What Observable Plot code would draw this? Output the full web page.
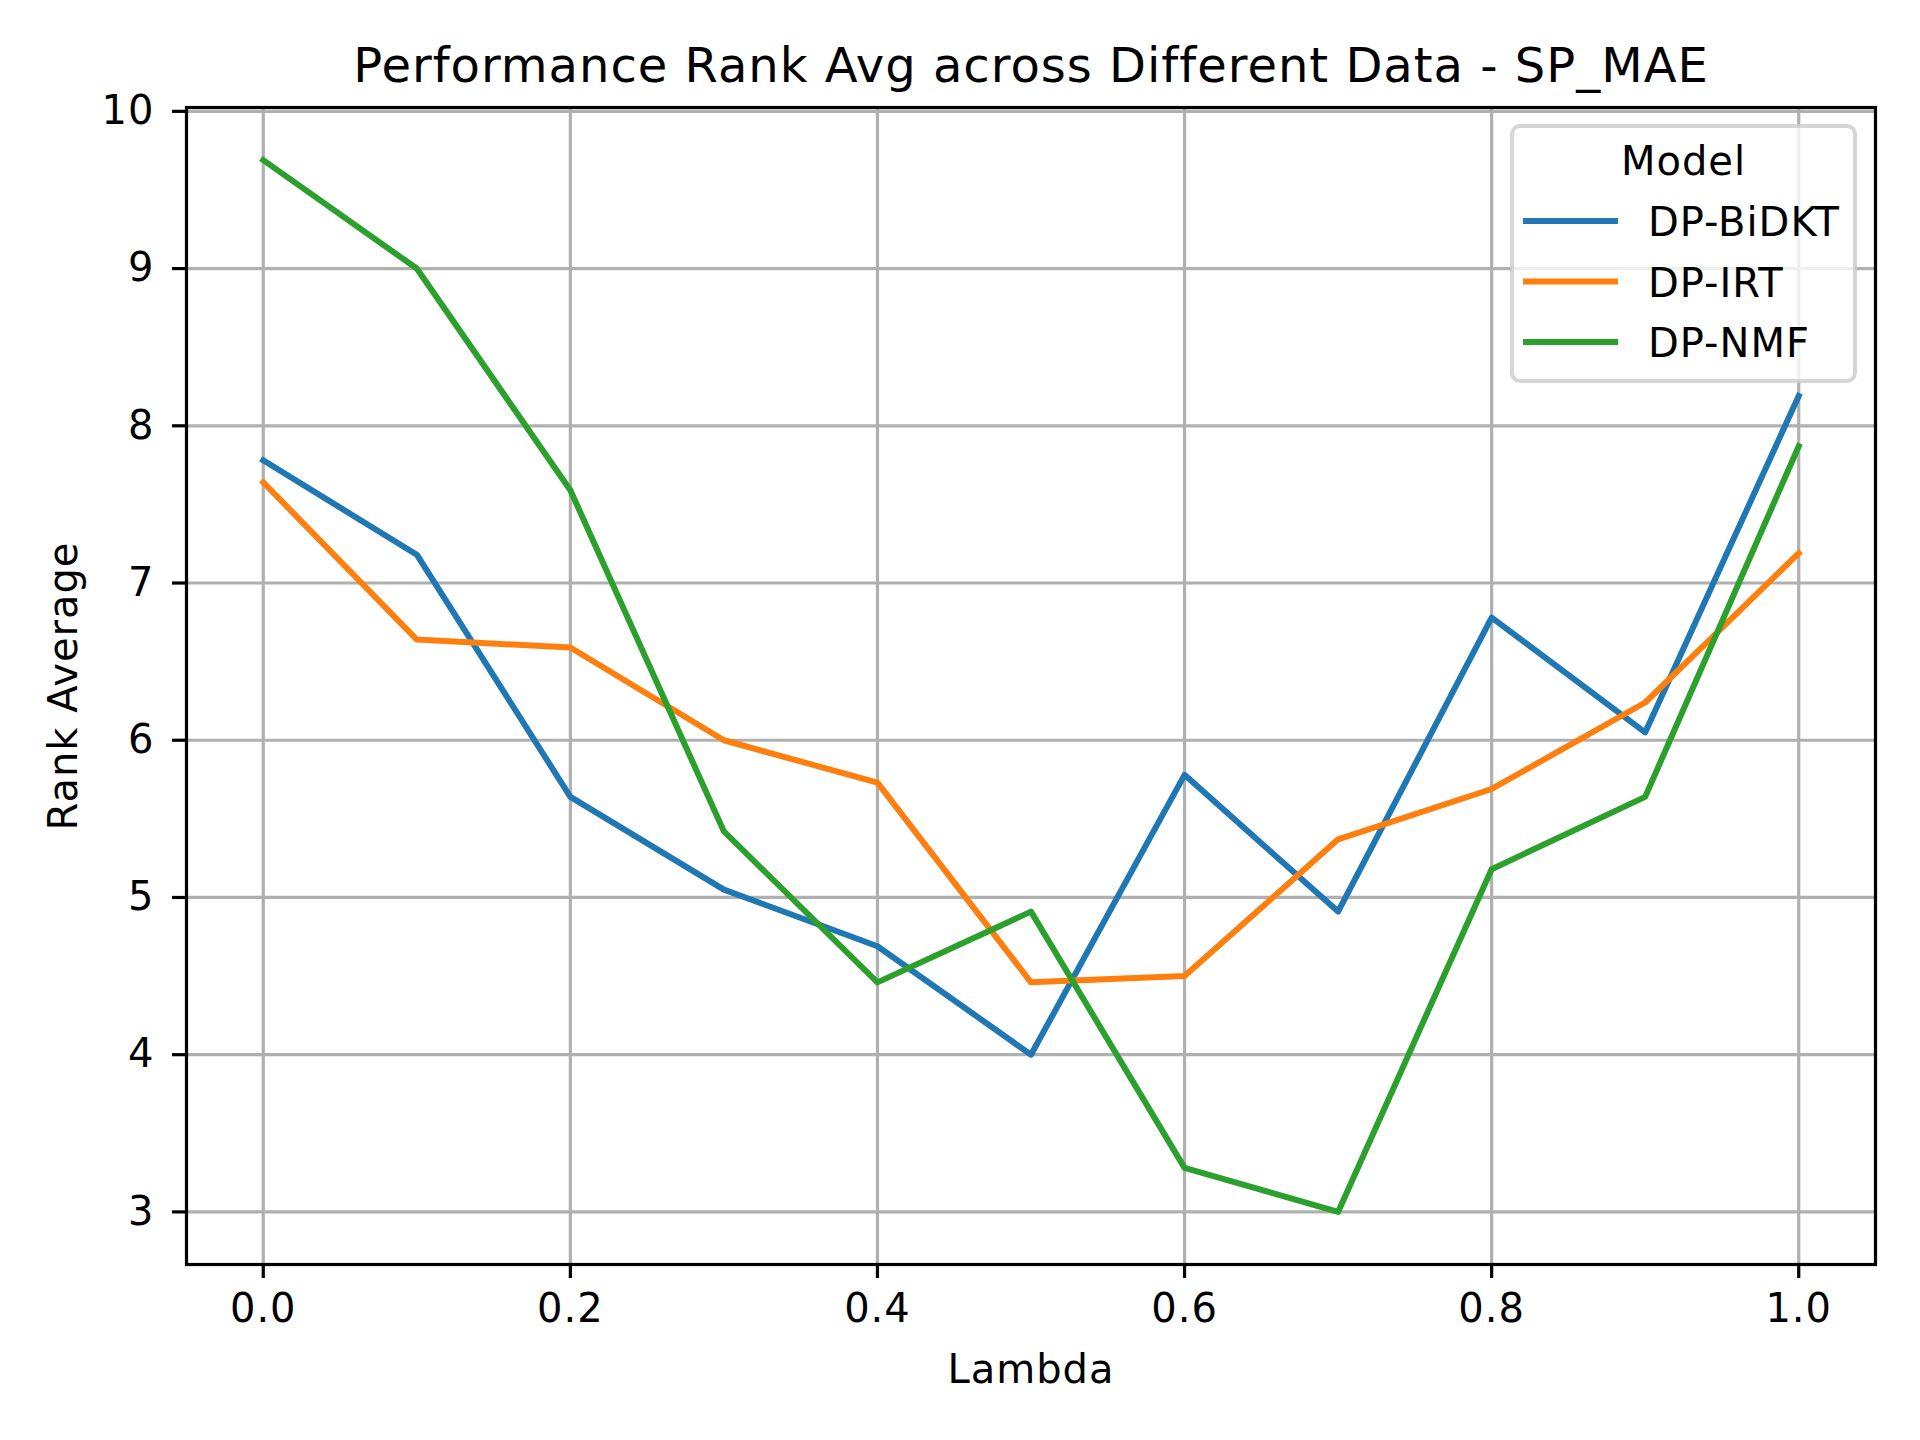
<!DOCTYPE html>
<html>
<head>
<meta charset="utf-8">
<script src="https://cdn.jsdelivr.net/npm/d3@7"></script>
<script src="https://cdn.jsdelivr.net/npm/@observablehq/plot@0.6"></script>
<style>
  html, body { margin: 0; padding: 0; background: white; }
  #chart svg { display: block; }
</style>
</head>
<body>
<div id="chart"></div>
<script>
// ---- data ----
const lambdas = [0.0, 0.1, 0.2, 0.3, 0.4, 0.5, 0.6, 0.7, 0.8, 0.9, 1.0];
const bidkt = [7.78, 7.18, 5.64, 5.05, 4.69, 4.00, 5.78, 4.91, 6.78, 6.05, 8.19];
const irt   = [7.64, 6.64, 6.59, 6.00, 5.73, 4.46, 4.50, 5.37, 5.69, 6.24, 7.19];
const nmf   = [9.69, 9.00, 7.59, 5.42, 4.46, 4.91, 3.28, 3.00, 5.18, 5.64, 7.87];
const models = ["DP-BiDKT", "DP-IRT", "DP-NMF"];
const colors = ["#1f77b4", "#ff7f0e", "#2ca02c"];
const xTicks = [0.0, 0.2, 0.4, 0.6, 0.8, 1.0];
const yTicks = [3, 4, 5, 6, 7, 8, 9, 10];
const titleText = "Performance Rank Avg across Different Data - SP_MAE";
const xLabel = "Lambda";
const yLabel = "Rank Average";
const legendTitle = "Model";

const seriesValues = [bidkt, irt, nmf];
const rows = [];
models.forEach((m, k) => {
  lambdas.forEach((l, i) => rows.push({model: m, lambda: l, value: seriesValues[k][i]}));
});

const FONT = "DejaVu Sans";

// custom legend mark (drawn inside the SVG, anchored to the plot frame)
function legendMark(index, scales, values, dims) {
  const g = d3.create("svg:g").attr("font-family", FONT);
  const w = 343, h = 255;
  const left = dims.width - dims.marginRight - 20 - w;
  const top = dims.marginTop + 19;
  g.append("rect")
    .attr("x", left).attr("y", top).attr("width", w).attr("height", h)
    .attr("rx", 8).attr("ry", 8)
    .attr("fill", "white").attr("fill-opacity", 0.8)
    .attr("stroke", "#cccccc").attr("stroke-opacity", 0.8).attr("stroke-width", 4);
  g.append("text")
    .attr("x", left + w / 2).attr("y", top + 49)
    .attr("text-anchor", "middle").attr("font-size", 40).attr("fill", "black")
    .text(legendTitle);
  models.forEach((m, i) => {
    const yy = top + 95 + i * 60.5;
    g.append("line")
      .attr("x1", left + 14).attr("x2", left + 103)
      .attr("y1", yy).attr("y2", yy)
      .attr("stroke", scales.color(m)).attr("stroke-width", 6)
      .attr("stroke-linecap", "square");
    g.append("text")
      .attr("x", left + 136).attr("y", yy + 15)
      .attr("text-anchor", "start")
      .attr("font-size", 40).attr("fill", "black")
      .text(m);
  });
  return g.node();
}

const chart = Plot.plot({
  width: 1920,
  height: 1440,
  marginLeft: 186,
  marginRight: 45,
  marginTop: 107,
  marginBottom: 176,
  style: {fontFamily: FONT, fontSize: "40px", background: "white", color: "black", letterSpacing: "1px"},
  x: {domain: [-0.05, 1.05]},
  y: {domain: [2.6655, 10.0245]},
  color: {domain: models, range: colors},
  marks: [
    Plot.gridX(xTicks, {stroke: "#b0b0b0", strokeOpacity: 1, strokeWidth: 3.2}),
    Plot.gridY(yTicks, {stroke: "#b0b0b0", strokeOpacity: 1, strokeWidth: 3.2}),
    Plot.axisX(xTicks, {
      tickSize: 14, tickPadding: 15, strokeWidth: 3.2, fontSize: 40,
      tickFormat: d3.format(".1f"), label: null
    }),
    Plot.axisY(yTicks, {
      tickSize: 14, tickPadding: 18, strokeWidth: 3.2, fontSize: 40,
      tickFormat: d3.format("d"), label: null
    }),
    Plot.line(rows, {
      x: "lambda", y: "value", stroke: "model", z: "model",
      strokeWidth: 6, strokeLinejoin: "round", strokeLinecap: "square"
    }),
    Plot.frame({stroke: "black", strokeWidth: 3.2}),
    Plot.text([titleText], {
      frameAnchor: "top", dy: -41, fontSize: 48, fill: "black", lineAnchor: "middle", textAnchor: "middle"
    }),
    Plot.text([xLabel], {
      frameAnchor: "bottom", dy: 106, fontSize: 40, fill: "black", lineAnchor: "middle", textAnchor: "middle"
    }),
    Plot.text([yLabel], {
      frameAnchor: "left", dx: -122, rotate: -90, fontSize: 40, fill: "black", lineAnchor: "middle", textAnchor: "middle"
    }),
    legendMark
  ]
});

document.getElementById("chart").appendChild(chart);
</script>
</body>
</html>
